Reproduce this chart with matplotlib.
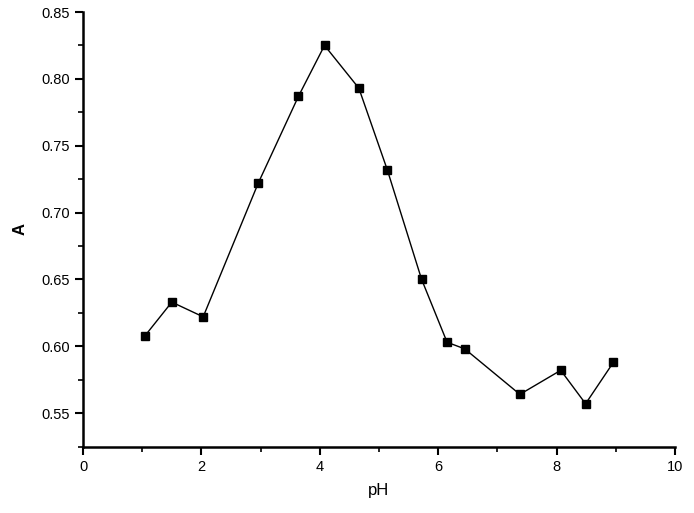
import numpy as np
import matplotlib.pyplot as plt
from matplotlib.ticker import MultipleLocator

plt.rcParams['font.family'] = ['Liberation Sans', 'DejaVu Sans']

# pH values and absorbance
ph = [1.05, 1.50, 2.03, 2.96, 3.64, 4.08, 4.66, 5.14, 5.72, 6.15, 6.45, 7.38, 8.07, 8.49, 8.96]
absorb = [0.608, 0.633, 0.622, 0.722, 0.787, 0.825, 0.793, 0.732, 0.650, 0.603,
          0.598, 0.564, 0.582, 0.557, 0.588]

fig = plt.figure(figsize=(6.94, 5.13), dpi=100)
ax = fig.add_axes([0.1196, 0.1296, 0.853, 0.847])

ax.plot(ph, absorb, color="black", lw=1, marker="s", markersize=6)

ax.set_xlim(0, 10)
ax.set_ylim(0.525, 0.85)
ax.xaxis.set_major_locator(MultipleLocator(2))
ax.xaxis.set_minor_locator(MultipleLocator(1))
ax.yaxis.set_major_locator(MultipleLocator(0.05))
ax.yaxis.set_minor_locator(MultipleLocator(0.025))
ax.yaxis.set_major_formatter(plt.FormatStrFormatter("%.2f"))

for s in ["top", "right"]:
    ax.spines[s].set_visible(False)
for s in ["left", "bottom"]:
    ax.spines[s].set_linewidth(1.8)

ax.tick_params(which="major", direction="out", length=6, width=1.5, labelsize=10.5)
ax.tick_params(which="minor", direction="out", length=3.5, width=1.2)

ax.set_xlabel("pH", fontsize=12, labelpad=7)
ax.set_ylabel("A", fontsize=12, fontweight="bold", labelpad=10)

plt.savefig("out.png", dpi=100)
